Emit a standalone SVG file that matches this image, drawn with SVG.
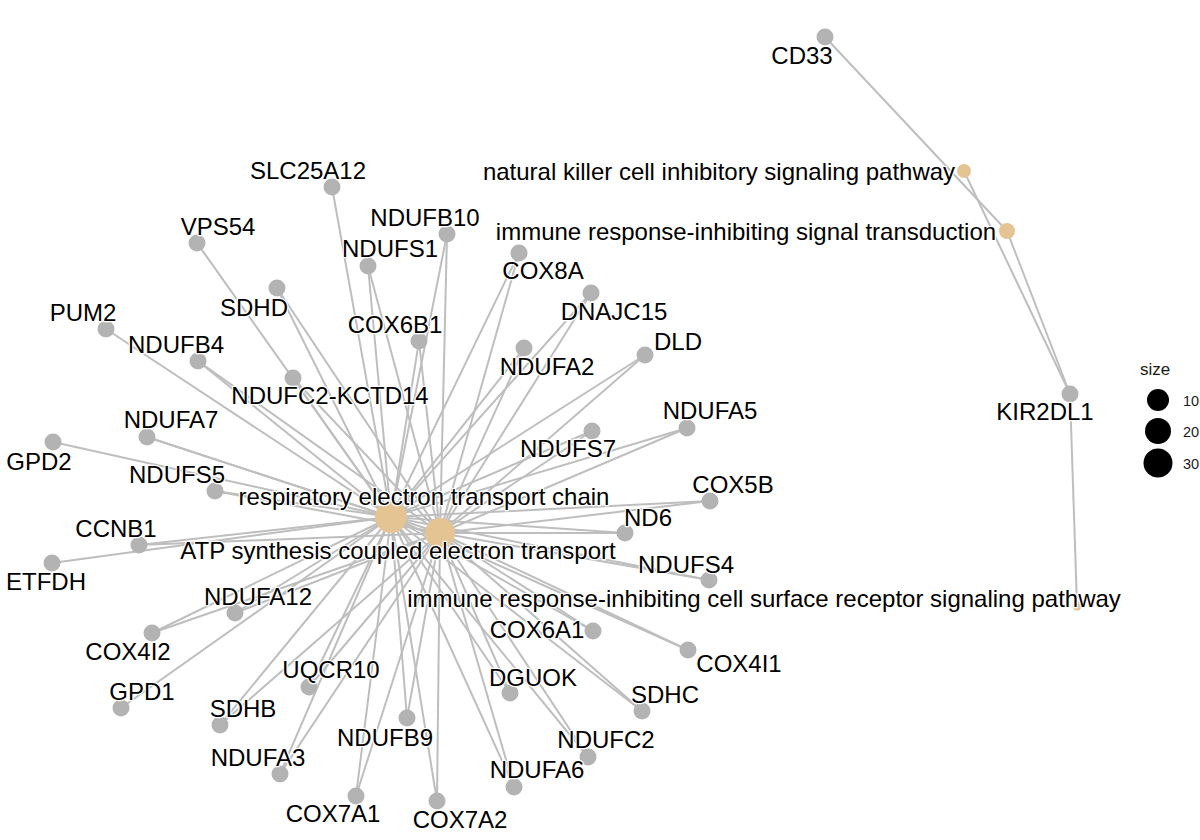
<svg xmlns="http://www.w3.org/2000/svg" width="1200" height="840" viewBox="0 0 1200 840">
<style>
.e{stroke:#bebebe;stroke-width:2;fill:none}
.g{fill:#b3b3b3}
.t{fill:#e5c494}
text{font-family:"Liberation Sans",Arial,sans-serif;fill:#000}
.l{font-size:24px;text-anchor:middle;stroke:#fff;stroke-width:2.5px;paint-order:stroke;stroke-linejoin:round}
.lg{font-size:17px;fill:#1a1a1a}
.ln{font-size:14.5px;fill:#1a1a1a}
</style>
<rect width="1200" height="840" fill="#fff"/>
<g id="edges">
<line class="e" x1="332" y1="187" x2="391" y2="517"/>
<line class="e" x1="197" y1="243" x2="391" y2="517"/>
<line class="e" x1="106" y1="329" x2="391" y2="517"/>
<line class="e" x1="53" y1="442" x2="391" y2="517"/>
<line class="e" x1="52" y1="563" x2="391" y2="517"/>
<line class="e" x1="121" y1="708" x2="391" y2="517"/>
<line class="e" x1="447" y1="234" x2="391" y2="517"/><line class="e" x1="447" y1="234" x2="440" y2="533"/>
<line class="e" x1="368" y1="266" x2="391" y2="517"/><line class="e" x1="368" y1="266" x2="440" y2="533"/>
<line class="e" x1="277" y1="288" x2="391" y2="517"/><line class="e" x1="277" y1="288" x2="440" y2="533"/>
<line class="e" x1="519" y1="253" x2="391" y2="517"/><line class="e" x1="519" y1="253" x2="440" y2="533"/>
<line class="e" x1="591" y1="293" x2="391" y2="517"/><line class="e" x1="591" y1="293" x2="440" y2="533"/>
<line class="e" x1="198" y1="361" x2="391" y2="517"/><line class="e" x1="198" y1="361" x2="440" y2="533"/>
<line class="e" x1="419" y1="341" x2="391" y2="517"/><line class="e" x1="419" y1="341" x2="440" y2="533"/>
<line class="e" x1="524" y1="348" x2="391" y2="517"/><line class="e" x1="524" y1="348" x2="440" y2="533"/>
<line class="e" x1="645" y1="355" x2="391" y2="517"/><line class="e" x1="645" y1="355" x2="440" y2="533"/>
<line class="e" x1="293" y1="378" x2="391" y2="517"/><line class="e" x1="293" y1="378" x2="440" y2="533"/>
<line class="e" x1="147" y1="437" x2="391" y2="517"/><line class="e" x1="147" y1="437" x2="440" y2="533"/>
<line class="e" x1="687" y1="428" x2="391" y2="517"/><line class="e" x1="687" y1="428" x2="440" y2="533"/>
<line class="e" x1="592" y1="431" x2="391" y2="517"/><line class="e" x1="592" y1="431" x2="440" y2="533"/>
<line class="e" x1="215" y1="491" x2="391" y2="517"/><line class="e" x1="215" y1="491" x2="440" y2="533"/>
<line class="e" x1="710" y1="501" x2="391" y2="517"/><line class="e" x1="710" y1="501" x2="440" y2="533"/>
<line class="e" x1="625" y1="533" x2="391" y2="517"/><line class="e" x1="625" y1="533" x2="440" y2="533"/>
<line class="e" x1="139" y1="545" x2="391" y2="517"/><line class="e" x1="139" y1="545" x2="440" y2="533"/>
<line class="e" x1="709" y1="580" x2="391" y2="517"/><line class="e" x1="709" y1="580" x2="440" y2="533"/>
<line class="e" x1="235" y1="613" x2="391" y2="517"/><line class="e" x1="235" y1="613" x2="440" y2="533"/>
<line class="e" x1="152" y1="633" x2="391" y2="517"/><line class="e" x1="152" y1="633" x2="440" y2="533"/>
<line class="e" x1="593" y1="631" x2="391" y2="517"/><line class="e" x1="593" y1="631" x2="440" y2="533"/>
<line class="e" x1="688" y1="650" x2="391" y2="517"/><line class="e" x1="688" y1="650" x2="440" y2="533"/>
<line class="e" x1="309" y1="687" x2="391" y2="517"/><line class="e" x1="309" y1="687" x2="440" y2="533"/>
<line class="e" x1="510" y1="693" x2="391" y2="517"/><line class="e" x1="510" y1="693" x2="440" y2="533"/>
<line class="e" x1="642" y1="711" x2="391" y2="517"/><line class="e" x1="642" y1="711" x2="440" y2="533"/>
<line class="e" x1="220" y1="725" x2="391" y2="517"/><line class="e" x1="220" y1="725" x2="440" y2="533"/>
<line class="e" x1="407" y1="718" x2="391" y2="517"/><line class="e" x1="407" y1="718" x2="440" y2="533"/>
<line class="e" x1="280" y1="774" x2="391" y2="517"/><line class="e" x1="280" y1="774" x2="440" y2="533"/>
<line class="e" x1="588" y1="757" x2="391" y2="517"/><line class="e" x1="588" y1="757" x2="440" y2="533"/>
<line class="e" x1="514" y1="787" x2="391" y2="517"/><line class="e" x1="514" y1="787" x2="440" y2="533"/>
<line class="e" x1="356" y1="796" x2="391" y2="517"/><line class="e" x1="356" y1="796" x2="440" y2="533"/>
<line class="e" x1="437" y1="801" x2="391" y2="517"/><line class="e" x1="437" y1="801" x2="440" y2="533"/>
<line class="e" x1="825" y1="37" x2="1007" y2="231"/>
<line class="e" x1="964" y1="171" x2="1070" y2="394"/>
<line class="e" x1="1007" y1="231" x2="1070" y2="394"/>
<line class="e" x1="1070" y1="394" x2="1077" y2="606"/>
</g>
<g id="n-CD33"><circle class="g" cx="825" cy="37" r="8.5"/></g>
<g id="n-SLC25A12"><circle class="g" cx="332" cy="187" r="8.5"/></g>
<g id="n-VPS54"><circle class="g" cx="197" cy="243" r="8.5"/></g>
<g id="n-NDUFB10"><circle class="g" cx="447" cy="234" r="8.5"/></g>
<g id="n-NDUFS1"><circle class="g" cx="368" cy="266" r="8.5"/></g>
<g id="n-SDHD"><circle class="g" cx="277" cy="288" r="8.5"/></g>
<g id="n-COX8A"><circle class="g" cx="519" cy="253" r="8.5"/></g>
<g id="n-DNAJC15"><circle class="g" cx="591" cy="293" r="8.5"/></g>
<g id="n-PUM2"><circle class="g" cx="106" cy="329" r="8.5"/></g>
<g id="n-NDUFB4"><circle class="g" cx="198" cy="361" r="8.5"/></g>
<g id="n-COX6B1"><circle class="g" cx="419" cy="341" r="8.5"/></g>
<g id="n-NDUFA2"><circle class="g" cx="524" cy="348" r="8.5"/></g>
<g id="n-DLD"><circle class="g" cx="645" cy="355" r="8.5"/></g>
<g id="n-NDUFC2-KCTD14"><circle class="g" cx="293" cy="378" r="8.5"/></g>
<g id="n-NDUFA7"><circle class="g" cx="147" cy="437" r="8.5"/></g>
<g id="n-NDUFA5"><circle class="g" cx="687" cy="428" r="8.5"/></g>
<g id="n-NDUFS7"><circle class="g" cx="592" cy="431" r="8.5"/></g>
<g id="n-GPD2"><circle class="g" cx="53" cy="442" r="8.5"/></g>
<g id="n-NDUFS5"><circle class="g" cx="215" cy="491" r="8.5"/></g>
<g id="n-COX5B"><circle class="g" cx="710" cy="501" r="8.5"/></g>
<g id="n-ND6"><circle class="g" cx="625" cy="533" r="8.5"/></g>
<g id="n-CCNB1"><circle class="g" cx="139" cy="545" r="8.5"/></g>
<g id="n-ETFDH"><circle class="g" cx="52" cy="563" r="8.5"/></g>
<g id="n-NDUFS4"><circle class="g" cx="709" cy="580" r="8.5"/></g>
<g id="n-NDUFA12"><circle class="g" cx="235" cy="613" r="8.5"/></g>
<g id="n-COX4I2"><circle class="g" cx="152" cy="633" r="8.5"/></g>
<g id="n-COX6A1"><circle class="g" cx="593" cy="631" r="8.5"/></g>
<g id="n-COX4I1"><circle class="g" cx="688" cy="650" r="8.5"/></g>
<g id="n-UQCR10"><circle class="g" cx="309" cy="687" r="8.5"/></g>
<g id="n-DGUOK"><circle class="g" cx="510" cy="693" r="8.5"/></g>
<g id="n-SDHC"><circle class="g" cx="642" cy="711" r="8.5"/></g>
<g id="n-GPD1"><circle class="g" cx="121" cy="708" r="8.5"/></g>
<g id="n-SDHB"><circle class="g" cx="220" cy="725" r="8.5"/></g>
<g id="n-NDUFB9"><circle class="g" cx="407" cy="718" r="8.5"/></g>
<g id="n-NDUFA3"><circle class="g" cx="280" cy="774" r="8.5"/></g>
<g id="n-NDUFC2"><circle class="g" cx="588" cy="757" r="8.5"/></g>
<g id="n-NDUFA6"><circle class="g" cx="514" cy="787" r="8.5"/></g>
<g id="n-COX7A1"><circle class="g" cx="356" cy="796" r="8.5"/></g>
<g id="n-COX7A2"><circle class="g" cx="437" cy="801" r="8.5"/></g>
<g id="n-KIR2DL1"><circle class="g" cx="1070" cy="394" r="8.5"/></g>
<g id="n-RETC"><circle class="t" cx="391" cy="517" r="16"/></g>
<g id="n-ATP"><circle class="t" cx="440" cy="533" r="15"/></g>
<g id="n-NK"><circle class="t" cx="964" cy="171" r="7"/></g>
<g id="n-IST"><circle class="t" cx="1007" cy="231" r="8"/></g>
<g id="n-CSR"><circle class="t" cx="1077" cy="606" r="4.5"/></g>
<g id="labels">
<text class="l" x="802" y="64">CD33</text>
<text class="l" x="308" y="179">SLC25A12</text>
<text class="l" x="218" y="235">VPS54</text>
<text class="l" x="425" y="226">NDUFB10</text>
<text class="l" x="390" y="257">NDUFS1</text>
<text class="l" x="254" y="316">SDHD</text>
<text class="l" x="543" y="279">COX8A</text>
<text class="l" x="614" y="320">DNAJC15</text>
<text class="l" x="83" y="321">PUM2</text>
<text class="l" x="176" y="353">NDUFB4</text>
<text class="l" x="395" y="333">COX6B1</text>
<text class="l" x="547" y="375">NDUFA2</text>
<text class="l" x="678" y="350">DLD</text>
<text class="l" x="330" y="404">NDUFC2-KCTD14</text>
<text class="l" x="171" y="428">NDUFA7</text>
<text class="l" x="710" y="419">NDUFA5</text>
<text class="l" x="568" y="457">NDUFS7</text>
<text class="l" x="39" y="470">GPD2</text>
<text class="l" x="177" y="483">NDUFS5</text>
<text class="l" x="733" y="493">COX5B</text>
<text class="l" x="648" y="526">ND6</text>
<text class="l" x="116" y="537">CCNB1</text>
<text class="l" x="46" y="590">ETFDH</text>
<text class="l" x="686" y="573">NDUFS4</text>
<text class="l" x="258" y="605">NDUFA12</text>
<text class="l" x="128" y="660">COX4I2</text>
<text class="l" x="537" y="638">COX6A1</text>
<text class="l" x="739" y="672">COX4I1</text>
<text class="l" x="331" y="678">UQCR10</text>
<text class="l" x="533" y="686">DGUOK</text>
<text class="l" x="665" y="703">SDHC</text>
<text class="l" x="142" y="700">GPD1</text>
<text class="l" x="243" y="717">SDHB</text>
<text class="l" x="385" y="746">NDUFB9</text>
<text class="l" x="258" y="766">NDUFA3</text>
<text class="l" x="606" y="748">NDUFC2</text>
<text class="l" x="537" y="778">NDUFA6</text>
<text class="l" x="333" y="822">COX7A1</text>
<text class="l" x="460" y="828">COX7A2</text>
<text class="l" x="1045" y="420">KIR2DL1</text>
<text class="l" x="424" y="505">respiratory electron transport chain</text>
<text class="l" x="398" y="559">ATP synthesis coupled electron transport</text>
<text class="l" x="719" y="180">natural killer cell inhibitory signaling pathway</text>
<text class="l" x="746" y="240">immune response-inhibiting signal transduction</text>
<text class="l" x="764" y="607">immune response-inhibiting cell surface receptor signaling pathway</text>
</g>
<g id="legend">
<text class="lg" x="1140" y="375">size</text>
<circle cx="1158" cy="400" r="11" fill="#000"/>
<circle cx="1158" cy="431" r="13" fill="#000"/>
<circle cx="1158" cy="463" r="14.5" fill="#000"/>
<text class="ln" x="1183" y="406">10</text>
<text class="ln" x="1183" y="437">20</text>
<text class="ln" x="1183" y="469">30</text>
</g>
</svg>
